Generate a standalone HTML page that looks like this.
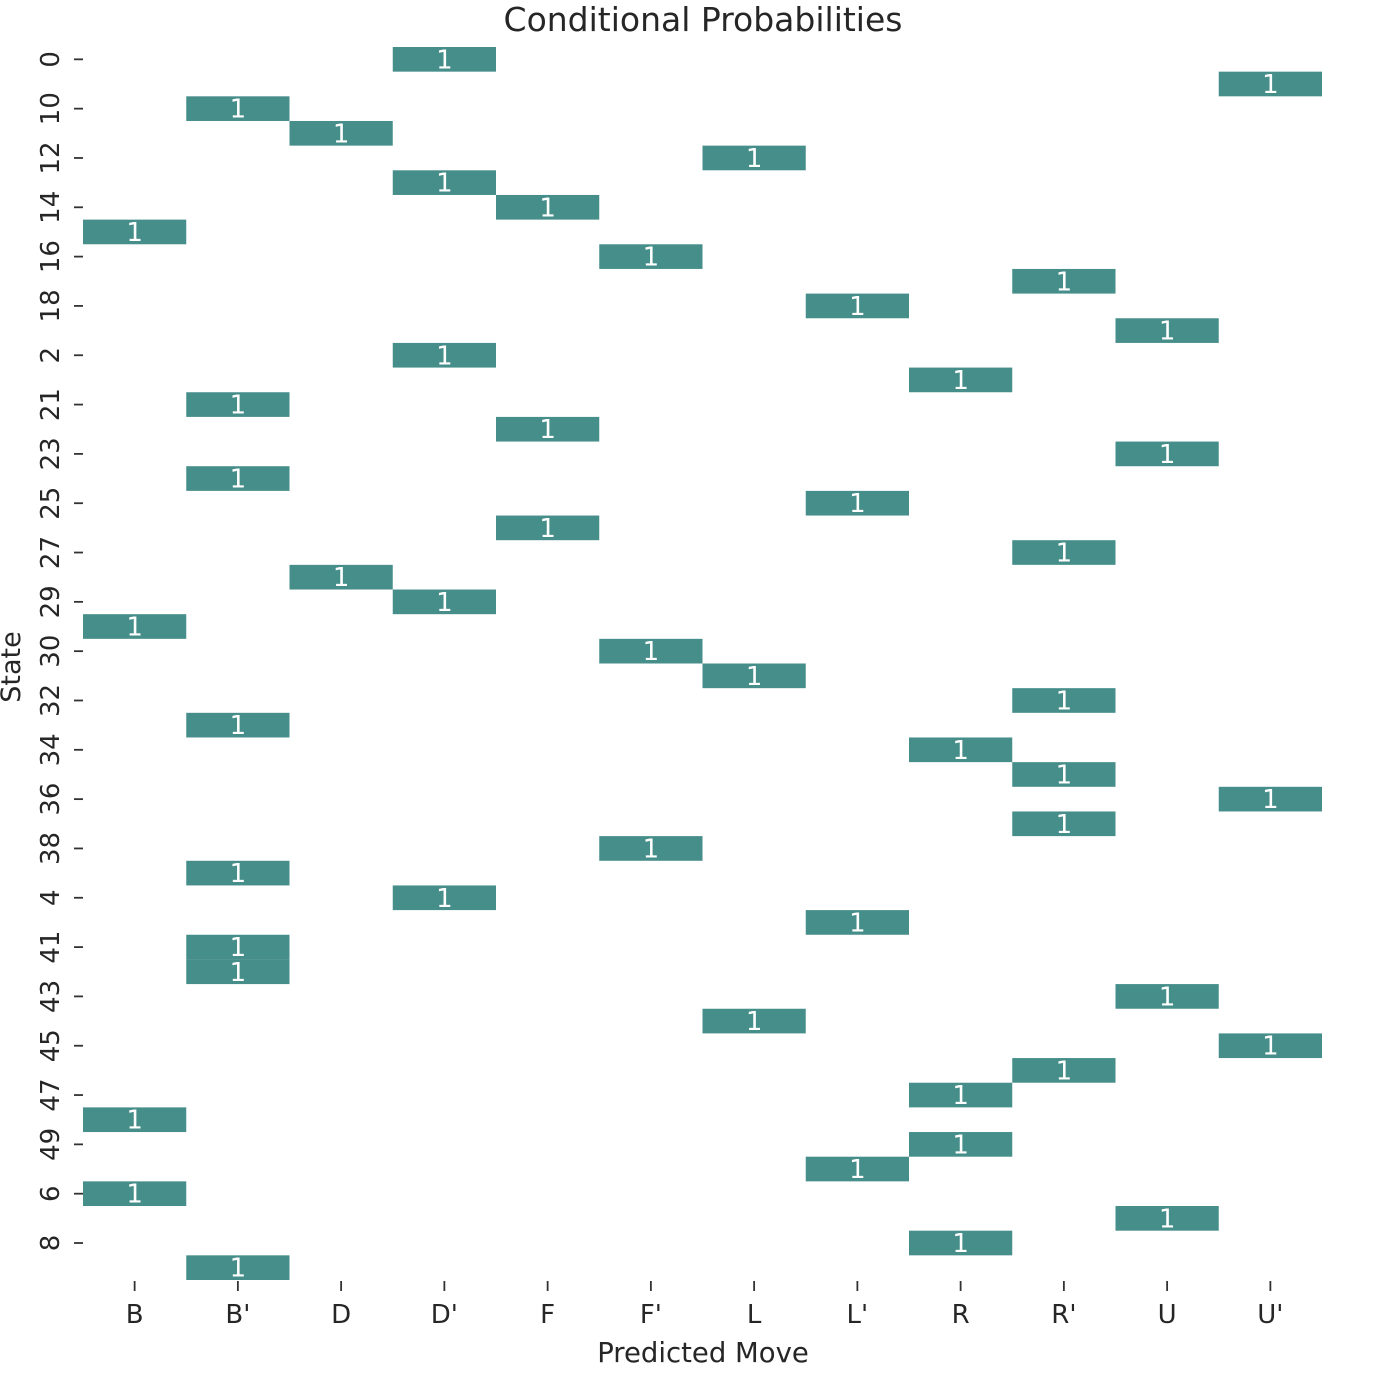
<!DOCTYPE html>
<html><head><meta charset="utf-8"><style>
body{margin:0;background:#fff}
svg text{font-family:"DejaVu Sans","Liberation Sans",sans-serif;fill:#262626}
</style></head><body>
<svg id="chart" width="1376" height="1392" xmlns="http://www.w3.org/2000/svg">
<text x="703" y="31" font-size="33" text-anchor="middle">Conditional Probabilities</text>
<text x="703" y="1362" font-size="27.5" text-anchor="middle">Predicted Move</text>
<text transform="translate(20,667) rotate(-90)" font-size="27" text-anchor="middle">State</text>
<g id="cells"></g>
<g id="axes"></g>
</svg>
<script>
const moves = ["B","B'","D","D'","F","F'","L","L'","R","R'","U","U'"];
const states = ["0","1","10","11","12","13","14","15","16","17","18","19","2","20","21","22","23","24","25","26","27","28","29","3","30","31","32","33","34","35","36","37","38","39","4","40","41","42","43","44","45","46","47","48","49","5","6","7","8","9"];
const predicted = ["D'","U'","B'","D","L","D'","F","B","F'","R'","L'","U","D'","R","B'","F","U","B'","L'","F","R'","D","D'","B","F'","L","R'","B'","R","R'","U'","R'","F'","B'","D'","L'","B'","B'","U","L","U'","R'","R","B","R","L'","B","U","R","B'"];
const probs = [1,1,1,1,1,1,1,1,1,1,1,1,1,1,1,1,1,1,1,1,1,1,1,1,1,1,1,1,1,1,1,1,1,1,1,1,1,1,1,1,1,1,1,1,1,1,1,1,1,1];

const L=83,R=1322,T=47,B=1280;
const cw=(R-L)/moves.length, rh=(B-T)/states.length;
const xs=i=>L+i*cw, ys=i=>T+i*rh;
const NS="http://www.w3.org/2000/svg";
const cells=document.getElementById('cells'), axes=document.getElementById('axes');
function mk(t,a,p){const e=document.createElementNS(NS,t);for(const k in a)e.setAttribute(k,a[k]);p.appendChild(e);return e;}
states.forEach((s,i)=>{
  const c=moves.indexOf(predicted[i]);
  const r=mk('rect',{x:xs(c),y:ys(i),width:cw,height:rh,fill:'#468e8a'},cells);
  
  
  const t=mk('text',{x:xs(c)+cw/2,y:ys(i)+rh/2+9,'font-size':26,'text-anchor':'middle',style:'fill:#fff'},cells);
  t.textContent=probs[i];
  
  
  if(i%2===0){
    const y=ys(i)+rh/2;
    const tk=mk('line',{x1:74,x2:83,y1:y,y2:y,stroke:'#333','stroke-width':1.8},axes);
    
    
    const lb=mk('text',{transform:`translate(59,${y}) rotate(-90)`,'font-size':26,'text-anchor':'middle'},axes);
    lb.textContent=s;
    
    
  }
});
moves.forEach((m,i)=>{
  const x=xs(i)+cw/2;
  const tk=mk('line',{x1:x,x2:x,y1:1281,y2:1291,stroke:'#333','stroke-width':1.8},axes);
  
  
  const lb=mk('text',{x:x,y:1323,'font-size':26,'text-anchor':'middle'},axes);
  lb.textContent=m;
  
  
});
</script>
</body></html>
